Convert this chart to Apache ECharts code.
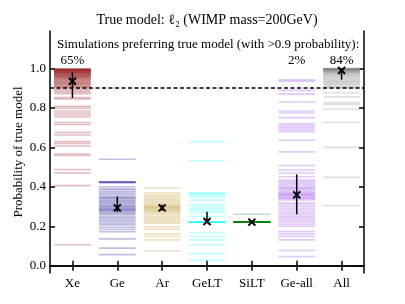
<!DOCTYPE html>
<html><head><meta charset="utf-8">
<script src="https://cdn.jsdelivr.net/npm/echarts@6/dist/echarts.min.js"></script>
<style>html,body{margin:0;padding:0;background:#fff}#c{width:405px;height:304px}</style>
</head><body><div id="c"></div>
<script>
const categories = ['Xe','Ge','Ar','GeLT','SiLT','Ge-all','All'];
const colors = ['#8b0000','#00008b','#b8860b','#00ffff','#008000','#8a2be2','#808080'];

const xeLines = [0.998,0.997,0.996,0.995,0.993,0.992,0.991,0.99,0.988,0.987,0.985,0.983,0.982,0.98,0.978,0.976,0.975,0.973,0.97,0.968,0.966,0.965,0.962,0.96,0.957,0.955,0.953,0.95,0.947,0.943,0.94,0.936,0.932,0.928,0.925,0.921,0.918,0.914,0.91,0.906,0.903,
  0.895,0.888,0.88,0.872,0.852,0.845,0.808,0.798,0.784,0.774,0.764,0.754,0.726,0.716,0.675,0.663,0.63,0.62,0.607,0.566,0.559,0.488,0.47,0.406,0.106];
const geLines = [0.54,0.425,0.425,0.424,0.42,0.40,0.39,0.384,0.375,0.367,0.36,0.35,0.345,0.34,0.333,0.328,0.322,0.317,0.31,0.305,0.30,0.296,0.29,0.287,0.283,0.278,0.272,0.266,0.26,0.25,0.241,0.232,0.224,0.215,0.207,0.195,0.185,0.173,0.136,0.089,0.056];
const arLines = [0.395,0.37,0.36,0.35,0.34,0.333,0.325,0.318,0.31,0.305,0.30,0.297,0.293,0.288,0.283,0.278,0.272,0.266,0.258,0.249,0.24,0.232,0.224,0.216,0.197,0.185,0.16,0.148,0.131,0.076];
const geltLines = [0.628,0.532,0.37,0.365,0.36,0.35,0.333,0.31,0.3,0.29,0.28,0.27,0.249,0.22,0.22,0.22,0.22,0.22,0.22,0.22,0.22,0.168,0.148,0.131,0.106,0.061,0.027];
const siltLines = [0.261,0.222,0.222,0.222,0.222,0.222,0.222,0.222,0.222,0.222,0.222,0.222,0.222,0.222,0.222,0.222,0.222];
const geallLines = [0.943,0.936,0.889,0.87,0.83,0.784,0.774,0.751,0.72,0.71,0.70,0.69,0.68,0.636,0.577,0.508,0.485,0.47,0.451,0.434,0.426,0.418,0.41,0.40,0.395,0.39,0.383,0.375,0.37,0.365,0.36,0.358,0.35,0.345,0.34,0.333,0.318,0.31,0.3,0.29,0.28,0.27,0.26,0.25,0.24,0.23,0.22,0.21,0.2,0.173,0.16,0.148,0.131,0.077,0.047];
const allLines = [0.999,0.999,0.998,0.998,0.997,0.996,0.996,0.995,0.994,0.994,0.993,0.992,0.991,0.99,0.988,0.986,0.984,0.982,0.98,0.977,0.974,0.97,0.966,0.962,0.958,0.953,0.948,0.943,0.938,0.933,0.928,0.922,0.916,0.91,0.905,0.901,
  0.877,0.857,0.827,0.818,0.793,0.726,0.6,0.448,0.305];
const linesByCat = [xeLines, geLines, arLines, geltLines, siltLines, geallLines, allLines];

const means   = [0.935, 0.293, 0.293, 0.224, 0.221, 0.359, 0.99];
const errLow  = [0.85, 0.272, 0.278, 0.215, 0.215, 0.261, 0.943];
const errHigh = [0.98, 0.35, 0.31, 0.274, 0.228, 0.463, 1.0];
const yTicks = [0, 0.2, 0.4, 0.6, 0.8, 1.0];
const threshold = 0.9;
const pctCats = ['Xe', 'Ge-all', 'All'];
const pctTexts = ['65%', '2%', '84%'];

const FONT = 'Liberation Serif';
const chart = echarts.init(document.getElementById('c'), null, {renderer: 'canvas'});

const lineSeries = linesByCat.map((vals, ci) => ({
  type: 'custom',
  xAxisIndex: 0, yAxisIndex: 0,
  silent: true,
  z: 2,
  data: vals.map(v => [ci, v]),
  renderItem: function (params, api) {
    const c = api.coord([api.value(0), api.value(1)]);
    const bw = api.size([1, 0])[0];
    return {
      type: 'line',
      shape: {x1: c[0] - bw * 0.41, y1: c[1], x2: c[0] + bw * 0.41, y2: c[1]},
      style: {stroke: colors[ci], lineWidth: 1.6, opacity: 0.25}
    };
  }
}));

const markerSeries = {
  type: 'custom',
  silent: true,
  z: 10,
  data: means.map((m, i) => [i, m, errLow[i], errHigh[i]]),
  renderItem: function (params, api) {
    const c = api.coord([api.value(0), api.value(1)]);
    const lo = api.coord([api.value(0), api.value(2)]);
    const hi = api.coord([api.value(0), api.value(3)]);
    const s = 3.5;
    return {type: 'group', children: [
      {type: 'line', shape: {x1: c[0], y1: lo[1], x2: c[0], y2: hi[1]}, style: {stroke: '#000', lineWidth: 1.5}},
      {type: 'line', shape: {x1: c[0]-s, y1: c[1]-s, x2: c[0]+s, y2: c[1]+s}, style: {stroke: '#000', lineWidth: 2}},
      {type: 'line', shape: {x1: c[0]-s, y1: c[1]+s, x2: c[0]+s, y2: c[1]-s}, style: {stroke: '#000', lineWidth: 2}}
    ]};
  }
};

const thresholdSeries = {
  type: 'line', data: [], z: 8, silent: true,
  markLine: {
    silent: true, symbol: 'none', label: {show: false},
    lineStyle: {color: '#000', type: [4, 2.5], width: 1.5},
    data: [{yAxis: threshold}]
  }
};

const axisCommon = {
  axisLine: {show: true, lineStyle: {color: '#000', width: 1.5}},
  axisTick: {show: true, inside: true, length: 5, lineStyle: {color: '#000', width: 1.5}},
  splitLine: {show: false}
};

chart.setOption({
  animation: false,
  backgroundColor: '#fff',
  grid: {left: 50, right: 41, top: 31, bottom: 31},
  xAxis: [
    Object.assign({}, axisCommon, {
      type: 'category', data: categories, boundaryGap: true, position: 'bottom',
      axisTick: Object.assign({}, axisCommon.axisTick, {alignWithLabel: true}),
      axisLabel: {color: '#000', fontFamily: FONT, fontSize: 13, margin: 4}
    }),
    Object.assign({}, axisCommon, {
      type: 'category', data: categories, boundaryGap: true, position: 'top',
      axisTick: Object.assign({}, axisCommon.axisTick, {alignWithLabel: true}),
      axisLabel: {show: false}
    })
  ],
  yAxis: [
    Object.assign({}, axisCommon, {
      type: 'value', min: -0.037, max: 1.19, position: 'left',
      axisTick: Object.assign({}, axisCommon.axisTick, {customValues: yTicks}),
      axisLabel: {color: '#000', fontFamily: FONT, fontSize: 13, margin: 4,
        customValues: yTicks, formatter: v => v.toFixed(1)},
      name: 'Probability of true model', nameLocation: 'middle', nameRotate: 90, nameGap: 25,
      nameMoveOverlap: false,
      nameTextStyle: {color: '#000', fontFamily: FONT, fontSize: 13}
    }),
    Object.assign({}, axisCommon, {
      type: 'value', min: -0.037, max: 1.19, position: 'right',
      axisTick: Object.assign({}, axisCommon.axisTick, {customValues: yTicks}),
      axisLabel: {show: false}
    })
  ],
  series: lineSeries.concat([thresholdSeries, markerSeries])
});

const gr = [
  {type: 'text', x: 207, y: 20, style: {text: 'True model: ℓ₂ (WIMP mass=200GeV)', fill: '#000', font: '14px "' + FONT + '"', textAlign: 'center', textVerticalAlign: 'middle'}},
  {type: 'text', x: 57, y: 45, style: {text: 'Simulations preferring true model (with >0.9 probability):', fill: '#000', font: '13px "' + FONT + '"', textAlign: 'left', textVerticalAlign: 'middle'}}
];
pctCats.forEach((c, i) => {
  const px = chart.convertToPixel({xAxisIndex: 0}, c);
  gr.push({type: 'text', x: px, y: 61, style: {text: pctTexts[i], fill: '#000', font: '13px "' + FONT + '"', textAlign: 'center', textVerticalAlign: 'middle'}});
});
chart.setOption({graphic: gr});
</script>
</body></html>
